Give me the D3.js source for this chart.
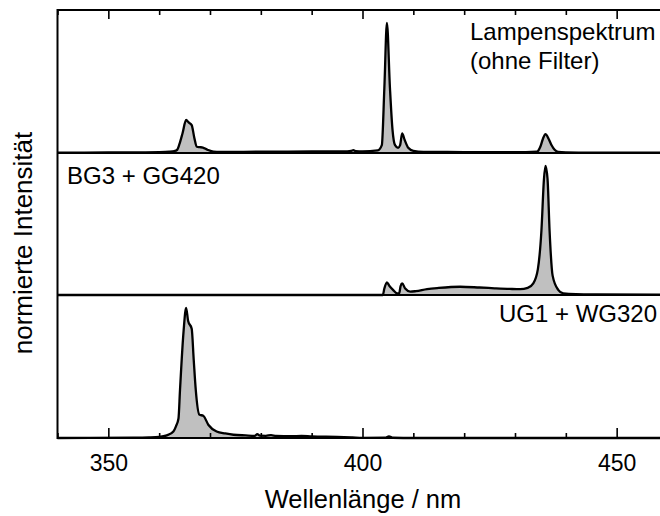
<!DOCTYPE html>
<html>
<head>
<meta charset="utf-8">
<script src="https://cdn.jsdelivr.net/npm/d3@7/dist/d3.min.js"></script>
<style>
  html, body { margin: 0; padding: 0; background: #fff; }
  svg { display: block; }
  text { font-family: "Liberation Sans", Arial, Helvetica, sans-serif; fill: #000; }
</style>
</head>
<body>
<svg id="chart" width="660" height="516"></svg>
<script>
// ---- data ----
const lampWavelength = [340, 350, 355, 360, 362, 363, 363.5, 364, 364.6, 365.3, 365.8, 366.4, 366.9, 367.4, 368, 368.6, 369.5, 370.7, 372, 380, 390, 397, 397.8, 398.2, 398.7, 400, 403, 403.8, 404.3, 404.8, 405.4, 405.9, 406.4, 407.0, 407.4, 407.8, 408.3, 409, 410, 412, 420, 430, 434.3, 435.0, 435.5, 436.0, 436.6, 437.2, 437.8, 438.5, 440, 445, 460];
const lampIntensity  = [0.003, 0.004, 0.005, 0.007, 0.01, 0.015, 0.023, 0.07, 0.152, 0.254, 0.235, 0.215, 0.12, 0.048, 0.045, 0.042, 0.025, 0.01, 0.008, 0.01, 0.012, 0.013, 0.016, 0.022, 0.014, 0.012, 0.02, 0.06, 0.5, 1.0, 0.5, 0.18, 0.06, 0.04, 0.06, 0.15, 0.1, 0.04, 0.016, 0.009, 0.007, 0.006, 0.01, 0.05, 0.11, 0.145, 0.11, 0.06, 0.025, 0.008, 0.004, 0.002, 0.002];

const bgWavelength = [340, 400, 404.0, 404.3, 404.8, 405.3, 406.0, 406.8, 407.2, 407.5, 407.8, 408.4, 409.4, 410.5, 412.7, 415, 419.2, 423, 426, 429, 431, 432.5, 433.6, 434.5, 435.2, 435.7, 436.0, 436.4, 436.8, 437.4, 438.5, 439.5, 442, 446, 460];
const bgIntensity  = [0, 0, 0, 0.05, 0.098, 0.07, 0.04, 0.013, 0.012, 0.07, 0.09, 0.05, 0.026, 0.03, 0.046, 0.055, 0.064, 0.058, 0.052, 0.047, 0.045, 0.055, 0.09, 0.2, 0.5, 0.9, 1.0, 0.9, 0.5, 0.15, 0.04, 0.012, 0.006, 0.004, 0.002];

const ugWavelength = [340, 355, 358, 360, 361.5, 362.8, 363.3, 363.8, 364.1, 364.8, 365.3, 365.7, 366.4, 366.8, 367.2, 367.9, 368.7, 369.7, 371.3, 373, 374.6, 377, 378.8, 379.3, 379.8, 381, 382, 383, 386, 388, 390, 395, 398, 400, 404.5, 405.2, 406, 410, 460];
const ugIntensity  = [0, 0.002, 0.004, 0.008, 0.02, 0.05, 0.09, 0.15, 0.37, 0.82, 1.0, 0.9, 0.84, 0.6, 0.37, 0.18, 0.17, 0.1, 0.05, 0.035, 0.025, 0.02, 0.017, 0.03, 0.018, 0.017, 0.022, 0.016, 0.014, 0.016, 0.012, 0.008, 0.004, 0.001, 0.002, 0.012, 0.002, 0, 0];

const panelLabels = [["Lampenspektrum", "(ohne Filter)"], ["BG3 + GG420"], ["UG1 + WG320"]];
const majorTicks = [350, 400, 450];
const minorTicks = [340, 360, 370, 380, 390, 410, 420, 430, 440, 460];
const xLabel = "Wellenlänge / nm";
const yLabel = "normierte Intensität";

(function () {
const svg = d3.select("#chart");
const plotLeft = 57.5, plotRight = 667.5, plotTop = 10, plotBottom = 438;
const bounds = [[153, 10], [295, 153], [438, 295]];

const x = d3.scaleLinear().domain([340, 460]).range([plotLeft, plotRight]);
const yScales = bounds.map(b => d3.scaleLinear().domain([0, 1.1]).range(b));

const series = [
  {w: lampWavelength, v: lampIntensity},
  {w: bgWavelength, v: bgIntensity},
  {w: ugWavelength, v: ugIntensity}
];

series.forEach((s, i) => {
  const y = yScales[i];
  const pts = s.w.map((w, k) => [w, s.v[k]]);
  const area = d3.area().x(d => x(d[0])).y0(y(0)).y1(d => y(d[1])).curve(d3.curveMonotoneX);
  const line = d3.line().x(d => x(d[0])).y(d => y(d[1])).curve(d3.curveMonotoneX);
  svg.append("path").datum(pts).attr("d", area).attr("fill", "#c0c0c0");
  svg.append("path").datum(pts).attr("d", line).attr("fill", "none")
     .attr("stroke", "#000").attr("stroke-width", 2.3).attr("stroke-linejoin", "round");
  svg.append("line").attr("x1", plotLeft).attr("x2", 660).attr("y1", y(0)).attr("y2", y(0))
     .attr("stroke", "#000").attr("stroke-width", 2);
});

svg.append("line").attr("x1", plotLeft).attr("x2", plotLeft).attr("y1", plotTop - 1).attr("y2", plotBottom + 1)
   .attr("stroke", "#000").attr("stroke-width", 2);
svg.append("line").attr("x1", plotLeft).attr("x2", 660).attr("y1", plotTop).attr("y2", plotTop)
   .attr("stroke", "#000").attr("stroke-width", 2);

[153, 295].forEach(yy => {
  svg.append("line").attr("x1", plotLeft).attr("x2", plotLeft + 4).attr("y1", yy).attr("y2", yy)
     .attr("stroke", "#000").attr("stroke-width", 1.5);
});

const bMajor = svg.append("g").attr("transform", `translate(0,${plotBottom})`)
  .call(d3.axisBottom(x).tickValues(majorTicks).tickSize(-10).tickPadding(17).tickFormat(d3.format("d")));
const bMinor = svg.append("g").attr("transform", `translate(0,${plotBottom})`)
  .call(d3.axisBottom(x).tickValues(minorTicks).tickSize(-5).tickFormat(""));
const tMajor = svg.append("g").attr("transform", `translate(0,${plotTop})`)
  .call(d3.axisTop(x).tickValues(majorTicks).tickSize(-9).tickFormat(""));
const tMinor = svg.append("g").attr("transform", `translate(0,${plotTop})`)
  .call(d3.axisTop(x).tickValues(minorTicks).tickSize(-5).tickFormat(""));

[bMajor, bMinor, tMajor, tMinor].forEach(g => {
  g.select(".domain").remove();
  g.selectAll(".tick line").attr("stroke", "#000").attr("stroke-width", 1.6);
  g.selectAll(".tick text").attr("font-size", 23).attr("font-family", "'Liberation Sans', Arial, sans-serif").attr("fill", "#000");
});

svg.append("text").attr("x", 470).attr("y", 40).attr("font-size", 24).text(panelLabels[0][0]);
svg.append("text").attr("x", 470).attr("y", 69).attr("font-size", 24).text(panelLabels[0][1]);
svg.append("text").attr("x", 67).attr("y", 184).attr("font-size", 24).text(panelLabels[1][0]);
svg.append("text").attr("x", 657).attr("y", 322).attr("font-size", 24).attr("text-anchor", "end").text(panelLabels[2][0]);

svg.append("text").attr("x", 363).attr("y", 508).attr("font-size", 25.5).attr("text-anchor", "middle").text(xLabel);
svg.append("text").attr("transform", "translate(32,243) rotate(-90)").attr("font-size", 26)
   .attr("text-anchor", "middle").text(yLabel);
})();
</script>
</body>
</html>
